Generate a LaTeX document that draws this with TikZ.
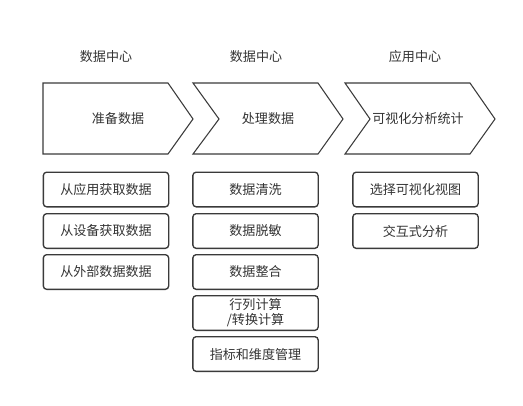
\documentclass[tikz,border=0pt]{standalone}
\usepackage{fontspec}
\setmainfont{Noto Sans CJK SC}
\usepackage{tikz}
\usetikzlibrary{positioning}

\definecolor{lineclr}{HTML}{3A3A3A}
\definecolor{txtclr}{HTML}{333333}

\tikzset{
    stage/.style={draw=lineclr, line width=0.8pt, line join=miter},
    task/.style={draw=lineclr, line width=1pt, rounded corners=2.5pt,
        minimum width=94pt, minimum height=26pt, inner sep=0pt,
        align=center, text=txtclr},
    head/.style={text=txtclr, inner sep=0pt},
}

\begin{document}
\begin{tikzpicture}[x=0.75pt, y=-0.75pt, font=\fontsize{9.8}{11.3}\selectfont]
    \useasboundingbox (0,0) rectangle (523,405);

    % Stages
    \draw[stage] (43,83) -- (168,83) -- (193,119) -- (168,154) -- (43,154) -- cycle;
    \draw[stage] (193,83) -- (318,83) -- (343,119) -- (318,154) -- (193,154) -- (219,119) -- cycle;
    \draw[stage] (345,83) -- (470,83) -- (495,119) -- (470,154) -- (345,154) -- (370,119) -- cycle;

    \node[head] (h1) at (106,57) {数据中心};
    \node[head] (h2) at (256,57) {数据中心};
    \node[head] (h3) at (415,57) {应用中心};

    \node[head] (s1) at (118,119) {准备数据};
    \node[head] (s2) at (268,119) {处理数据};
    \node[head] (s3) at (418,119) {可视化分析统计};

    % Tasks
    \foreach \n/\y/\t in {1/189.5/从应用获取数据, 2/231/从设备获取数据, 3/272/从外部数据数据} {
        \node[task] (a\n) at (106,\y) {\t};
    }
    \foreach \n/\y/\t in {1/189.5/数据清洗, 2/231/数据脱敏, 3/272/数据整合,
        4/313/{行列计算\\/转换计算}, 5/354/指标和维度管理} {
        \node[task] (b\n) at (255.5,\y) {\t};
    }
    \foreach \n/\y/\t in {1/189.5/选择可视化视图, 2/231/交互式分析} {
        \node[task] (c\n) at (415.5,\y) {\t};
    }
\end{tikzpicture}
\end{document}
